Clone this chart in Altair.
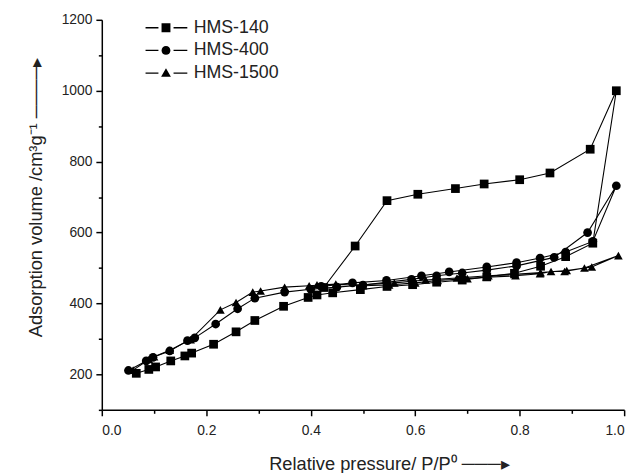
import altair as alt
import pandas as pd

series_names = ["HMS-140", "HMS-400", "HMS-1500"]

# HMS-140 (adsorption then desorption)
x140 = [0.066, 0.090, 0.103, 0.132, 0.159, 0.172, 0.214, 0.257, 0.293, 0.348, 0.395, 0.412,
        0.442, 0.495, 0.546, 0.595, 0.641, 0.690, 0.737, 0.790, 0.840, 0.888, 0.940, 0.985,
        0.935, 0.858, 0.800, 0.732, 0.677, 0.605, 0.546, 0.485, 0.425]
y140 = [203, 214, 221, 238, 252, 260, 285, 320, 352, 392, 417, 424,
        430, 439, 448, 453, 460, 466, 475, 485, 505, 532, 570, 1000,
        835, 768, 749, 737, 724, 708, 690, 562, 445]

# HMS-400
x400 = [0.051, 0.085, 0.098, 0.130, 0.164, 0.178, 0.218, 0.260, 0.293, 0.350, 0.400, 0.450,
        0.500, 0.593, 0.641, 0.690, 0.737, 0.794, 0.866, 0.930, 0.985,
        0.940, 0.888, 0.839, 0.794, 0.737, 0.665, 0.612, 0.545, 0.480, 0.420]
y400 = [211, 238, 248, 266, 295, 303, 342, 385, 415, 432, 440, 446,
        452, 468, 478, 486, 494, 506, 530, 600, 732,
        575, 545, 528, 515, 503, 489, 478, 465, 458, 448]

# HMS-1500
x1500 = [0.060, 0.090, 0.100, 0.130, 0.170, 0.227, 0.257, 0.289, 0.304, 0.350, 0.397, 0.448,
         0.500, 0.550, 0.600, 0.643, 0.700, 0.737, 0.792, 0.839, 0.860, 0.886, 0.924, 0.989,
         0.938, 0.890, 0.840, 0.790, 0.740, 0.680, 0.620, 0.560, 0.500, 0.412]
y1500 = [212, 242, 250, 268, 298, 382, 403, 432, 435, 446, 450, 455,
         450, 452, 458, 465, 470, 474, 478, 484, 490, 490, 500, 535,
         503, 493, 487, 482, 478, 472, 466, 458, 453, 453]

rows = []
for name, xs, ys in [("HMS-140", x140, y140), ("HMS-400", x400, y400), ("HMS-1500", x1500, y1500)]:
    for i, (xv, yv) in enumerate(zip(xs, ys)):
        rows.append({"series": name, "x": xv, "y": yv, "idx": i})
df = pd.DataFrame(rows)

FONT = "Liberation Sans"
TXT = "#222222"

x_enc = alt.X("x:Q", scale=alt.Scale(domain=[0, 1.0], nice=False, zero=False),
              axis=alt.Axis(
                  title="Relative pressure/ P/P\u2070 \u2500\u2500\u2500\u25B8",
                  values=[round(i * 0.1, 1) for i in range(11)],
                  labelExpr="round(datum.value*10) % 2 === 0 ? format(datum.value, '.1f') : ''",
                  tickSize={"condition": {"test": "round(datum.value*10) % 2 === 0", "value": 6}, "value": 3.5},
                  grid=False, labelFontSize=14, titleFontSize=18.5, labelPadding=8,
                  titleAnchor="start", titleAlign="left", titleBaseline="alphabetic",
                  titleX=169, titleY=60))
y_enc = alt.Y("y:Q", scale=alt.Scale(domain=[100, 1200], nice=False, zero=False),
              axis=alt.Axis(
                  title="Adsorption volume   /cm\u00B3g\u207B\u00B9 \u2500\u2500\u2500\u2500\u25B8",
                  values=list(range(100, 1201, 100)),
                  labelExpr="datum.value % 200 === 0 ? format(datum.value, 'd') : ''",
                  tickSize={"condition": {"test": "datum.value % 200 === 0", "value": 6}, "value": 3.5},
                  grid=False, labelFontSize=14, titleFontSize=18.5, labelPadding=4,
                  titleAnchor="start", titleAlign="left", titleBaseline="alphabetic",
                  titleAngle=270, titleX=-61, titleY=321))

lines = alt.Chart(df).mark_line(color="black", strokeWidth=1.1).encode(
    x=x_enc, y=y_enc, detail="series:N", order="idx:Q")

points = alt.Chart(df).mark_point(filled=True, opacity=1, color="black", size=78).encode(
    x=x_enc, y=y_enc,
    shape=alt.Shape("series:N",
                    scale=alt.Scale(domain=series_names, range=["square", "circle", "triangle-up"]),
                    legend=None))

legend_paths = [
    "M-4.6,-0.15H-1.7V0.15H-4.6Z M-1,-1H1V1H-1Z M1.7,-0.15H4.8V0.15H1.7Z",
    "M-4.6,-0.15H-1.7V0.15H-4.6Z M-1,0A1,1 0 1,1 1,0A1,1 0 1,1 -1,0Z M1.7,-0.15H4.8V0.15H1.7Z",
    "M-4.6,-0.15H-1.7V0.15H-4.6Z M0,-1.1L1.1,0.8L-1.1,0.8Z M1.7,-0.15H4.8V0.15H1.7Z",
]

legend_layer = alt.Chart(df).transform_filter("false").mark_point(
    filled=True, opacity=1, color="black").encode(
    x=x_enc, y=y_enc,
    shape=alt.Shape("series:N",
                    scale=alt.Scale(domain=series_names, range=legend_paths),
                    legend=alt.Legend(title=None, orient="none", legendX=56, legendY=-1,
                                      symbolSize=81, labelFontSize=18, labelOffset=19,
                                      rowPadding=5, symbolStrokeWidth=0,
                                      symbolFillColor="black", labelColor=TXT)))

chart = alt.layer(lines, points, legend_layer).resolve_scale(shape="independent").properties(
    width=529, height=395,
    autosize=alt.AutoSizeParams(type="none"),
    padding={"left": 95, "top": 9, "right": 12, "bottom": 61},
).configure_axis(
    domainColor="black", domainWidth=1.5, tickColor="black", tickWidth=1.5,
    labelFont=FONT, titleFont=FONT, labelColor=TXT, titleColor=TXT,
    titleFontWeight="normal",
).configure_legend(labelFont=FONT).configure_view(stroke=None)

chart.save("out.html", embed_options={"renderer": "svg", "actions": False})
